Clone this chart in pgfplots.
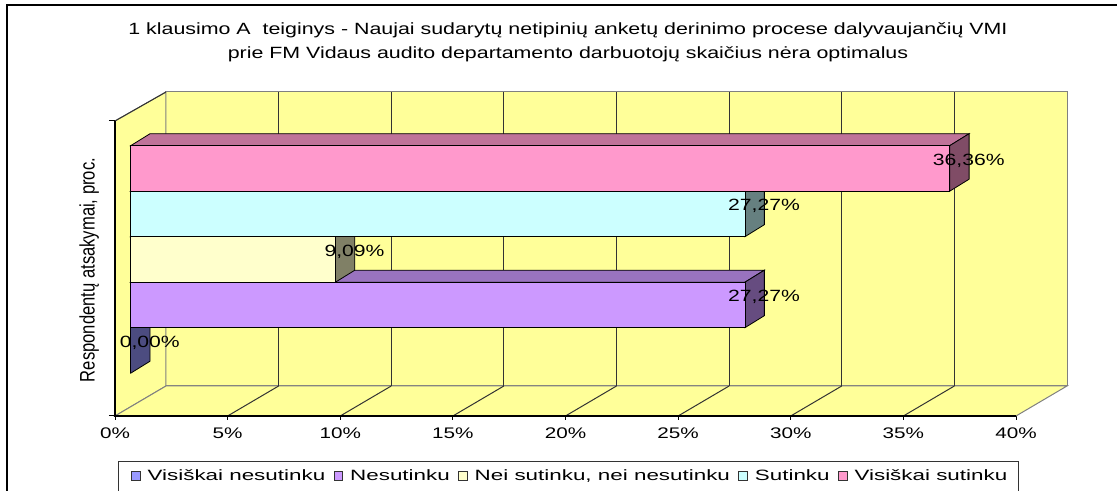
\documentclass[border=0pt]{standalone}
\usepackage{fontspec}
\setmainfont{Liberation Sans}
\newfontfamily\titlefont[FakeStretch=1.314]{Liberation Sans}
\newfontfamily\tickfont[FakeStretch=1.35]{Liberation Sans}
\newfontfamily\labfont[FakeStretch=1.3]{Liberation Sans}
\newfontfamily\legfont[FakeStretch=1.5]{Liberation Sans}
\newfontfamily\ylabfont[FakeStretch=0.79]{Liberation Sans}
\usepackage{pgfplots}
\pgfplotsset{compat=1.18}
\definecolor{wall}{HTML}{FFFF99}
\definecolor{walledge}{HTML}{808080}
\definecolor{gridc}{HTML}{333333}
\definecolor{cBlue}{HTML}{9999FF}\definecolor{cBlueT}{HTML}{7373BF}\definecolor{cBlueS}{HTML}{4C4C80}
\definecolor{cPur}{HTML}{CC99FF}\definecolor{cPurT}{HTML}{9973BF}\definecolor{cPurS}{HTML}{664C80}
\definecolor{cYel}{HTML}{FFFFCC}\definecolor{cYelT}{HTML}{BFBF99}\definecolor{cYelS}{HTML}{808066}
\definecolor{cCya}{HTML}{CCFFFF}\definecolor{cCyaT}{HTML}{99BFBF}\definecolor{cCyaS}{HTML}{668080}
\definecolor{cPin}{HTML}{FF99CC}\definecolor{cPinT}{HTML}{BF7399}\definecolor{cPinS}{HTML}{804C66}
\pgfplotsset{
  barlab/.style={
    point meta=x,
    nodes near coords={\pgfmathprintnumber[fixed,fixed zerofill,precision=2,use comma,assume math mode=true]{\pgfplotspointmeta}\%},
    every node near coord/.append style={font=\labfont\fontsize{12.2pt}{14pt}\selectfont, anchor=center, xshift=14.3pt, yshift=6pt, inner sep=0pt, text=black},
  },
  face/.style={draw=black, line width=0.6pt, forget plot},
}
\begin{document}
\begin{tikzpicture}
\begin{axis}[
  x=16.894pt, y=0.75pt,
  xmin=-0.697, xmax=39.303, ymin=0, ymax=295,
  clip=false,
  axis line style={draw=none},
  ytick=\empty,
  xtick={-0.697,4.303,9.303,14.303,19.303,24.303,29.303,34.303,39.303},
  xticklabels={0\%,5\%,10\%,15\%,20\%,25\%,30\%,35\%,40\%},
  xtick pos=left, tick align=outside,
  major tick length=3pt,
  tick style={black, line width=0.6pt},
  xticklabel style={font=\tickfont\fontsize{11.5pt}{13pt}\selectfont, yshift=-2.5pt},
  legend columns=5,
  legend cell align=left,
  legend style={at={(axis cs:0,-59.7)}, anchor=west, draw=none, fill=none, inner sep=0pt,
    font=\legfont\fontsize{11.2pt}{13pt}\selectfont,
    /tikz/every odd column/.append style={column sep=3.4pt},
    /tikz/every even column/.append style={column sep=4.2pt}},
  legend image code/.code={\draw[#1, draw=black!80, line width=0.5pt] (0pt,-3.3pt) rectangle (6.6pt,3.3pt);},
]
% outer frame
\addplot[black, line width=1.4pt, forget plot] coordinates {(-5.492,-284) (-5.492,411) (51.9,411)};
% legend frame (cut off by the picture's lower edge)
\addplot[black!80, line width=0.6pt, forget plot] coordinates {(-0.542,-104) (-0.542,-45.7) (39.391,-45.7) (39.391,-104)};
% walls
\addplot[fill=wall, draw=walledge, line width=0.75pt, forget plot] coordinates {(1.567,30) (41.567,30) (41.567,324) (1.567,324)} -- cycle;
\addplot[fill=wall, draw=walledge, line width=0.75pt, forget plot] coordinates {(-0.697,0) (1.567,30) (1.567,324) (-0.697,295)} -- cycle;
\addplot[fill=wall, draw=walledge, line width=0.75pt, forget plot] coordinates {(-0.697,0) (39.303,0) (41.567,30) (1.567,30)} -- cycle;
\addplot[gridc, line width=0.75pt, forget plot] coordinates {(-0.697,295) (1.567,324)};
% back wall grid
\addplot[gridc, line width=0.75pt, forget plot] coordinates {(6.567,30) (6.567,324)};
\addplot[gridc, line width=0.75pt, forget plot] coordinates {(11.567,30) (11.567,324)};
\addplot[gridc, line width=0.75pt, forget plot] coordinates {(16.567,30) (16.567,324)};
\addplot[gridc, line width=0.75pt, forget plot] coordinates {(21.567,30) (21.567,324)};
\addplot[gridc, line width=0.75pt, forget plot] coordinates {(26.567,30) (26.567,324)};
\addplot[gridc, line width=0.75pt, forget plot] coordinates {(31.567,30) (31.567,324)};
\addplot[gridc, line width=0.75pt, forget plot] coordinates {(36.567,30) (36.567,324)};
% floor grid
\addplot[gridc, line width=0.75pt, forget plot] coordinates {(4.303,0) (6.567,30)};
\addplot[gridc, line width=0.75pt, forget plot] coordinates {(9.303,0) (11.567,30)};
\addplot[gridc, line width=0.75pt, forget plot] coordinates {(14.303,0) (16.567,30)};
\addplot[gridc, line width=0.75pt, forget plot] coordinates {(19.303,0) (21.567,30)};
\addplot[gridc, line width=0.75pt, forget plot] coordinates {(24.303,0) (26.567,30)};
\addplot[gridc, line width=0.75pt, forget plot] coordinates {(29.303,0) (31.567,30)};
\addplot[gridc, line width=0.75pt, forget plot] coordinates {(34.303,0) (36.567,30)};
% front axes
\addplot[black, line width=0.9pt, forget plot] coordinates {(-0.697,295) (-0.697,0) (39.303,0)};
\addplot[black, line width=0.75pt, forget plot] coordinates {(-0.963,295) (-0.697,295)};
\addplot[black, line width=0.75pt, forget plot] coordinates {(-0.963,0) (-0.697,0)};
% Visiskai nesutinku 0.00
\addplot[face, fill=cBlueT] coordinates {(0,88.3) (0,88.3) (0.861,100.3) (0.861,100.3)} -- cycle;
\addplot[face, fill=cBlueS] coordinates {(0,42.8) (0,88.3) (0.861,100.3) (0.861,54.8)} -- cycle;
\addplot[xbar, bar width=45.5, bar shift=0pt, fill=cBlue, draw=black, line width=0.6pt, barlab] coordinates {(0,65.55)};
\addlegendentry{Visiškai nesutinku}
% Nesutinku 27.27
\addplot[face, fill=cPurT] coordinates {(0,133.8) (27.27,133.8) (28.131,145.8) (0.861,145.8)} -- cycle;
\addplot[face, fill=cPurS] coordinates {(27.27,88.3) (27.27,133.8) (28.131,145.8) (28.131,100.3)} -- cycle;
\addplot[xbar, bar width=45.5, bar shift=0pt, fill=cPur, draw=black, line width=0.6pt, barlab] coordinates {(27.27,111.05)};
\addlegendentry{Nesutinku}
% Nei sutinku, nei nesutinku 9.09
\addplot[face, fill=cYelT] coordinates {(0,179.3) (9.09,179.3) (9.951,191.3) (0.861,191.3)} -- cycle;
\addplot[face, fill=cYelS] coordinates {(9.09,133.8) (9.09,179.3) (9.951,191.3) (9.951,145.8)} -- cycle;
\addplot[xbar, bar width=45.5, bar shift=0pt, fill=cYel, draw=black, line width=0.6pt, barlab] coordinates {(9.09,156.55)};
\addlegendentry{Nei sutinku, nei nesutinku}
% Sutinku 27.27
\addplot[face, fill=cCyaT] coordinates {(0,224.8) (27.27,224.8) (28.131,236.8) (0.861,236.8)} -- cycle;
\addplot[face, fill=cCyaS] coordinates {(27.27,179.3) (27.27,224.8) (28.131,236.8) (28.131,191.3)} -- cycle;
\addplot[xbar, bar width=45.5, bar shift=0pt, fill=cCya, draw=black, line width=0.6pt, barlab] coordinates {(27.27,202.05)};
\addlegendentry{Sutinku}
% Visiskai sutinku 36.36
\addplot[face, fill=cPinT] coordinates {(0,270.3) (36.36,270.3) (37.221,282.3) (0.861,282.3)} -- cycle;
\addplot[face, fill=cPinS] coordinates {(36.36,224.8) (36.36,270.3) (37.221,282.3) (37.221,236.8)} -- cycle;
\addplot[xbar, bar width=45.5, bar shift=0pt, fill=cPin, draw=black, line width=0.6pt, barlab] coordinates {(36.36,247.55)};
\addlegendentry{Visiškai sutinku}
% texts
\node[anchor=base, font=\titlefont\fontsize{12.2pt}{14pt}\selectfont, inner sep=0pt] at (axis cs:19.414,381) {1 klausimo A~ teiginys - Naujai sudarytų netipinių anketų derinimo procese dalyvaujančių VMI};
\node[anchor=base, font=\titlefont\fontsize{12.2pt}{14pt}\selectfont, inner sep=0pt] at (axis cs:19.414,357) {prie FM Vidaus audito departamento darbuotojų skaičius nėra optimalus};
\node[rotate=90, anchor=center, inner sep=0pt, font=\ylabfont\fontsize{15.75pt}{18pt}\selectfont] at (axis cs:-1.838,146) {Respondentų atsakymai, proc.};
\coordinate (bbA) at (axis cs:-5.802,-75);
\coordinate (bbB) at (axis cs:43.787,416);
\end{axis}
\pgfresetboundingbox
\path[use as bounding box] (bbA) rectangle (bbB);
\end{tikzpicture}
\end{document}
